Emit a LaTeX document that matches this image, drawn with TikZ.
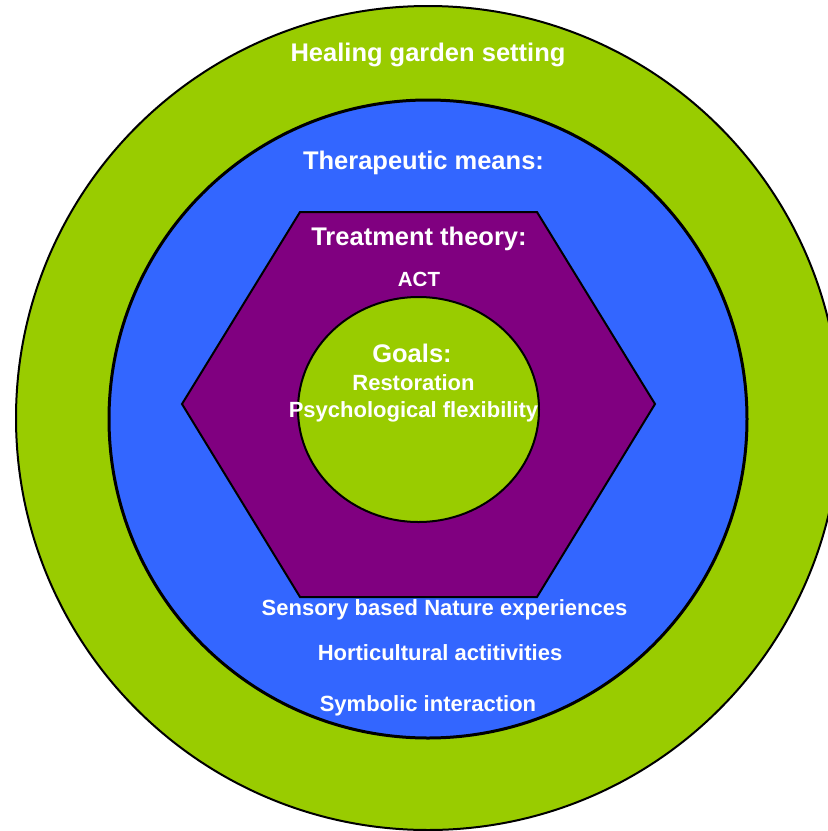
\documentclass[tikz,border=0pt]{standalone}
\usepackage{fontspec}
\setmainfont{Liberation Sans}
\usepackage{tikz}
\usetikzlibrary{arrows, shapes}
\definecolor{gardengreen}{HTML}{99CC00}
\definecolor{meansblue}{HTML}{3366FF}
\definecolor{theorypurple}{HTML}{800080}
\begin{document}
\begin{tikzpicture}[x=1pt,y=-1pt]
		\tikzstyle{every node} = [font = \bfseries\fontsize{22}{26}\selectfont, text = white, inner sep = 0pt]
		\tikzstyle{title} = [font = \bfseries\fontsize{25.5}{30}\selectfont]
			\useasboundingbox (0,0) rectangle (828,831);
			\clip (0,0) rectangle (828,831);
			% rings
			\path[draw,line width=2pt,fill=gardengreen](428,418) circle (412);
			\path[draw,line width=3pt,fill=meansblue](428,419) circle (319);
			\path[draw,line width=2pt,fill=theorypurple](300,212)--
				(537,212)--
				(655,404)--
				(537,597)--
				(300,597)--
				(182,404)--cycle;
			\path[draw,line width=2pt,fill=gardengreen](418.5,409.5) ellipse (120.5 and 112.5);
			% labels
			\node[title] (setting) at (428,55) {Healing garden setting};
			\node[title] (means) at (423.5,163) {Therapeutic means:};
			\node[title] (theory) at (419,239) {Treatment theory:};
			\node[font = \bfseries\fontsize{20.5}{24}\selectfont] (act) at (419,279) {ACT};
			\node[title] (goals) at (412,353) {Goals:};
			\node (restoration) at (413.5,383) {Restoration};
			\node (flexibility) at (413.5,411.5) {Psychological flexibility};
			\node (sensory) at (444.5,610) {Sensory based Nature experiences};
			\node (horticulture) at (440,653) {Horticultural actitivities};
			\node (symbolic) at (428,706) {Symbolic interaction};
\end{tikzpicture}
\end{document}
